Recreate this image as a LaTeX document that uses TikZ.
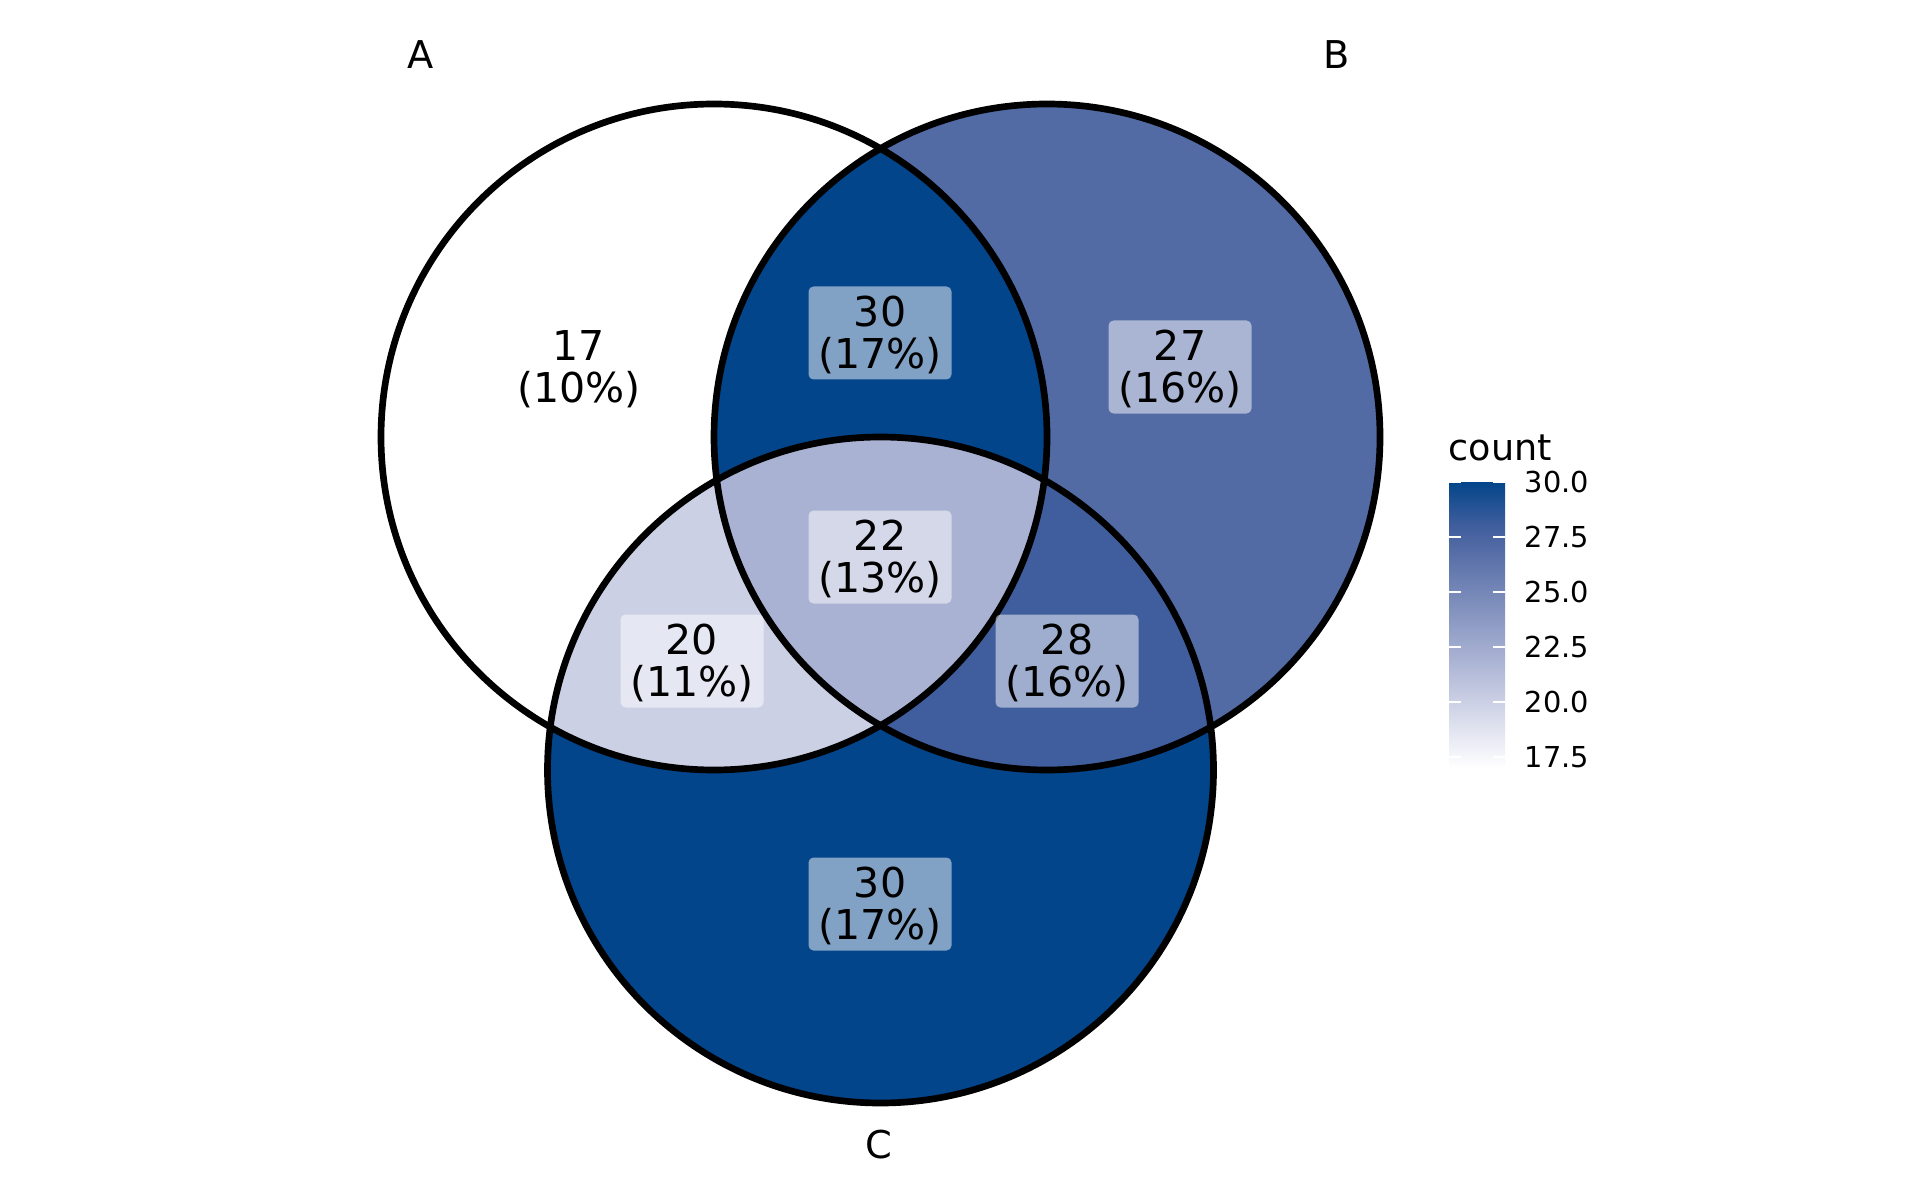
\documentclass[tikz,border=0pt]{standalone}
\usepackage{fontspec}
\setmainfont{DejaVu Sans}
\definecolor{cThirty}{HTML}{03458A}
\definecolor{cTwentyEight}{HTML}{405E9D}
\definecolor{cTwentySeven}{HTML}{536BA5}
\definecolor{cTwentyTwo}{HTML}{A9B2D3}
\definecolor{cTwenty}{HTML}{CCD0E5}
\pgfdeclareverticalshading{countbar}{100bp}{color(0bp)=(white); color(25bp)=(white); color(36.54bp)=(cTwenty); color(44.23bp)=(cTwentyTwo); color(63.46bp)=(cTwentySeven); color(67.31bp)=(cTwentyEight); color(75bp)=(cThirty); color(100bp)=(cThirty)}
\newcommand{\regcount}[2]{\rule{0pt}{10pt}#1\\(#2\%)}
\tikzset{
  setring/.style={line width=1.9pt, draw=black},
  setname/.style={font=\fontsize{10.9}{12}\selectfont},
  countbox/.style={fill=white, fill opacity=0.5, text opacity=1, rounded corners=0.05cm,
    minimum width=1.43cm, minimum height=0.93cm, align=center, inner sep=0pt,
    font=\fontsize{11.7}{12}\selectfont},
  ticklabel/.style={anchor=west, inner sep=0pt, font=\fontsize{8.2}{9}\selectfont}
}
\begin{document}
\begin{tikzpicture}
	\useasboundingbox (0,0) rectangle (19.2,12);
	\def\rad{3.33}
	% Centros
	\coordinate (A) at (7.14,7.63);
	\coordinate (B) at (10.47,7.63);
	\coordinate (C) at (8.805,4.30);
	
	% Regiones
	\fill[cTwentySeven] (B) circle (\rad);
	\fill[cThirty] (C) circle (\rad);
	\begin{scope}
		\clip (A) circle (\rad);
		\fill[cThirty] (B) circle (\rad);
	\end{scope}
	\begin{scope}
		\clip (A) circle (\rad);
		\fill[cTwenty] (C) circle (\rad);
	\end{scope}
	\begin{scope}
		\clip (B) circle (\rad);
		\fill[cTwentyEight] (C) circle (\rad);
	\end{scope}
	\begin{scope}
		\clip (A) circle (\rad);
		\clip (B) circle (\rad);
		\fill[cTwentyTwo] (C) circle (\rad);
	\end{scope}
	
	% Bordes
	\draw[setring] (A) circle (\rad);
	\draw[setring] (B) circle (\rad);
	\draw[setring] (C) circle (\rad);
	
	% Nombres de conjuntos
	\node[setname] (labA) at (4.21,11.45) {A};
	\node[setname] (labB) at (13.37,11.45) {B};
	\node[setname] (labC) at (8.79,0.55) {C};
	
	% Conteos
	\node[countbox] (nA) at (5.79,8.33) {\regcount{17}{10}};
	\node[countbox] (nAB) at (8.80,8.67) {\regcount{30}{17}};
	\node[countbox] (nB) at (11.80,8.33) {\regcount{27}{16}};
	\node[countbox] (nABC) at (8.80,6.43) {\regcount{22}{13}};
	\node[countbox] (nAC) at (6.92,5.39) {\regcount{20}{11}};
	\node[countbox] (nBC) at (10.67,5.39) {\regcount{28}{16}};
	\node[countbox] (nC) at (8.80,2.96) {\regcount{30}{17}};
	
	% Leyenda
	\node[anchor=base west, inner sep=0pt, font=\fontsize{10.4}{12}\selectfont] (legtitle) at (14.48,7.40) {count};
	\shade[shading=countbar] (14.49,4.32) rectangle (15.05,7.18);
	\foreach \v/\y in {17.5/4.43, 20.0/4.98, 22.5/5.53, 25.0/6.08, 27.5/6.63, 30.0/7.18} {
		\draw[white, line width=0.5pt] (14.49,\y) -- ++(0.12,0);
		\draw[white, line width=0.5pt] (15.05,\y) -- ++(-0.12,0);
		\node[ticklabel] (tick\v) at (15.24,\y) {\v};
	}
\end{tikzpicture}
\end{document}
